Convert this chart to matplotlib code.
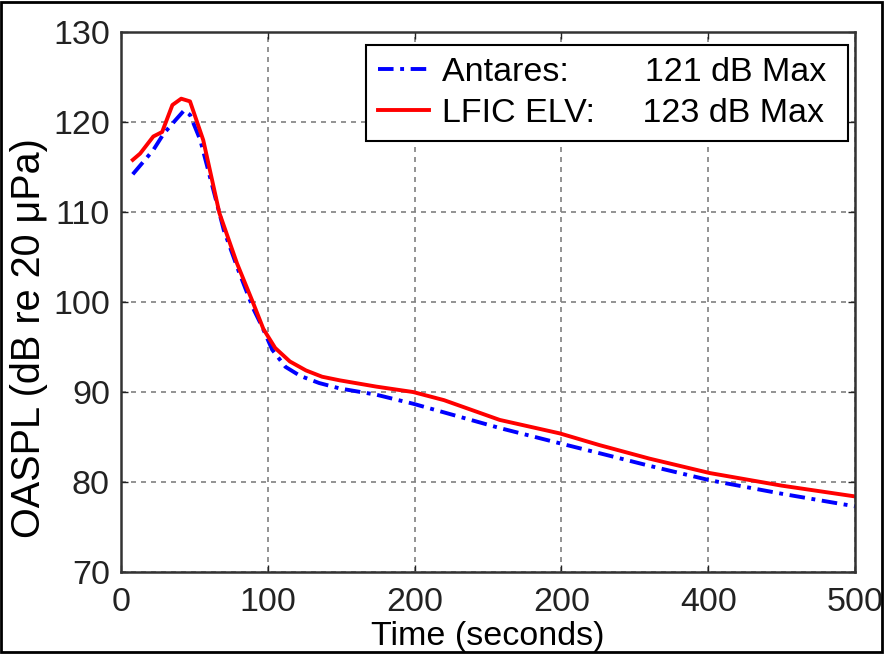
import matplotlib
matplotlib.use('Agg')

import matplotlib.pyplot as plt
from matplotlib.patches import Rectangle

plt.rcParams['font.family'] = ['Liberation Sans', 'DejaVu Sans']

#-- data --#
t_antares = [8, 22, 29, 37, 43, 47, 54, 63, 70, 80, 90, 96, 103, 112, 122, 135, 149, 174, 199, 258, 299, 326, 360, 401, 450, 500]
v_antares = [114.2, 116.9, 118.7, 120.2, 121.3, 120.8, 118.0, 112.4, 108.0, 103.5, 99.3, 97.3, 94.7, 92.8, 91.8, 91.0, 90.4, 89.7, 88.7, 86.0, 84.3, 83.2, 81.8, 80.2, 78.7, 77.3]

t_lfic = [8, 13, 22, 28, 35, 41, 47, 56, 67, 79, 90, 97, 105, 115, 126, 137, 149, 174, 199, 220, 258, 299, 326, 360, 401, 450, 500]
v_lfic = [115.8, 116.5, 118.4, 118.9, 121.9, 122.6, 122.3, 118.0, 109.9, 104.3, 99.9, 97.0, 94.9, 93.4, 92.4, 91.7, 91.3, 90.6, 90.0, 89.1, 86.9, 85.4, 84.1, 82.6, 81.0, 79.6, 78.4]

x_ticks = [0, 100, 200, 300, 400, 500]
x_ticklabels = ['0', '100', '200', '200', '400', '500']
y_ticks = [70, 80, 90, 100, 110, 120, 130]

FS = 24.5

fig = plt.figure(figsize=(8.86, 6.55), dpi=100)
ax = fig.add_axes([0.1366, 0.1267, 0.965 - 0.1366, 0.951 - 0.1267])

ax.plot(t_antares, v_antares, color='#0000ff', lw=2.8,
        linestyle=(0, (4, 1.7, 1, 1.7)),
        label='Antares:        121 dB Max ')
ax.plot(t_lfic, v_lfic, color='#ff0000', lw=2.8, linestyle='-',
        label='LFIC ELV:     123 dB Max ')

ax.set_xlim(0, 500)
ax.set_ylim(70, 130)
ax.set_xticks(x_ticks)
ax.set_xticklabels(x_ticklabels)
ax.set_yticks(y_ticks)
ax.tick_params(direction='in', length=5, width=1, labelsize=FS, colors='#222222',
               top=True, right=True)
ax.tick_params(axis='x', pad=11)
ax.tick_params(axis='y', pad=8)
for s in ax.spines.values():
    s.set_color('#333333')
    s.set_linewidth(1.8)

ax.grid(True, color='#808080', linestyle=(0, (3, 3)), linewidth=1.2)

ax.set_xlabel('Time (seconds)', fontsize=FS, labelpad=2)
ax.set_ylabel('OASPL (dB re 20 μPa)', fontsize=28.5)
ax.yaxis.set_label_coords(-0.1, 0.433)

leg = ax.legend(loc='upper right', bbox_to_anchor=(0.9905, 0.976), borderaxespad=0,
                fontsize=FS, handlelength=1.5, handletextpad=0.4,
                fancybox=False, edgecolor='black', framealpha=1,
                borderpad=0.35, labelspacing=0.3)
leg.get_frame().set_linewidth(1.5)

# frame around the whole picture
fig.patches.append(Rectangle((0.001, 0.004), 0.995, 0.993, transform=fig.transFigure,
                             fill=False, edgecolor='black', linewidth=2))

plt.savefig('out.png', dpi=100)
